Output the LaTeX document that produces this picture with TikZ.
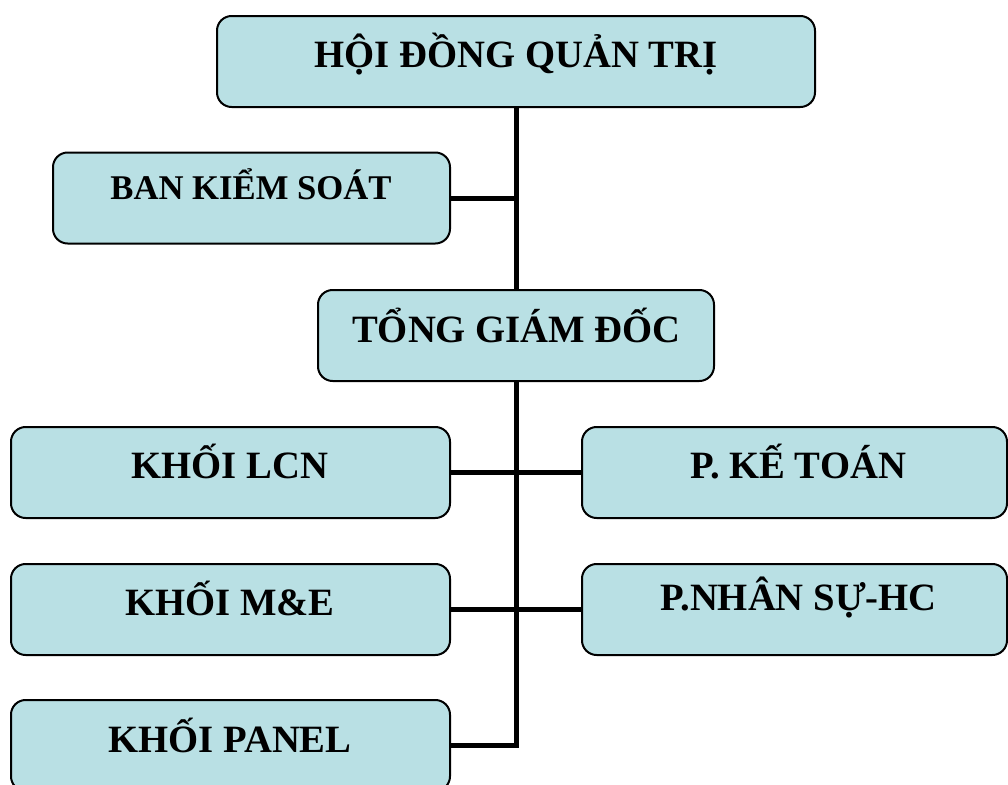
\documentclass[tikz,border=0pt]{standalone}
\usepackage{fontspec}
\setmainfont{Liberation Serif}
\begin{document}
\begin{tikzpicture}[x=0.75pt,y=-0.75pt,
  box/.style={draw=black,line width=1.5pt,rounded corners=11pt,fill=boxfill,
    minimum width=#1*0.75pt,minimum height=68.25pt,inner sep=0pt},
  lbl/.style={anchor=base,inner sep=0pt,font=\fontsize{29}{35}\selectfont\bfseries},
  lblsmall/.style={lbl,font=\fontsize{26}{31}\selectfont\bfseries},
  conn/.style={draw=black,line width=3.75pt}]
\definecolor{boxfill}{RGB}{185,224,228}
\useasboundingbox (0,0) rectangle (1008,785);

% boxes
\node[box=598] (hdqt) at (516,61.5) {};
\node[box=397] (bks) at (251.5,198) {};
\node[box=396] (tgd) at (516,335.5) {};
\node[box=439] (lcn) at (230.5,472.5) {};
\node[box=425] (ketoan) at (794.5,472.5) {};
\node[box=439] (me) at (230.5,609.5) {};
\node[box=425] (nhansu) at (794.5,609.5) {};
\node[box=439] (panel) at (230.5,745.5) {};

% labels
\node[lbl] (t-hdqt) at (516,67.7) {HỘI ĐỒNG QUẢN TRỊ};
\node[lblsmall] (t-bks) at (251,199) {BAN KIỂM SOÁT};
\node[lbl] (t-tgd) at (516.5,342) {TỔNG GIÁM ĐỐC};
\node[lbl] (t-lcn) at (230,478) {KHỐI LCN};
\node[lbl] (t-ketoan) at (798,478) {P. KẾ TOÁN};
\node[lbl] (t-me) at (230,615) {KHỐI M\&E};
\node[lbl] (t-nhansu) at (798.5,610) {P.NHÂN SỰ-HC};
\node[lbl] (t-panel) at (230,752) {KHỐI PANEL};

% connectors
\draw[conn] (hdqt.south) -- (tgd.north);
\draw[conn] (bks.east) -- (bks.east -| hdqt.south);
\draw[conn] (tgd.south) |- (panel.east);
\draw[conn] (lcn.east) -- (ketoan.west);
\draw[conn] (me.east) -- (nhansu.west);
\end{tikzpicture}
\end{document}
